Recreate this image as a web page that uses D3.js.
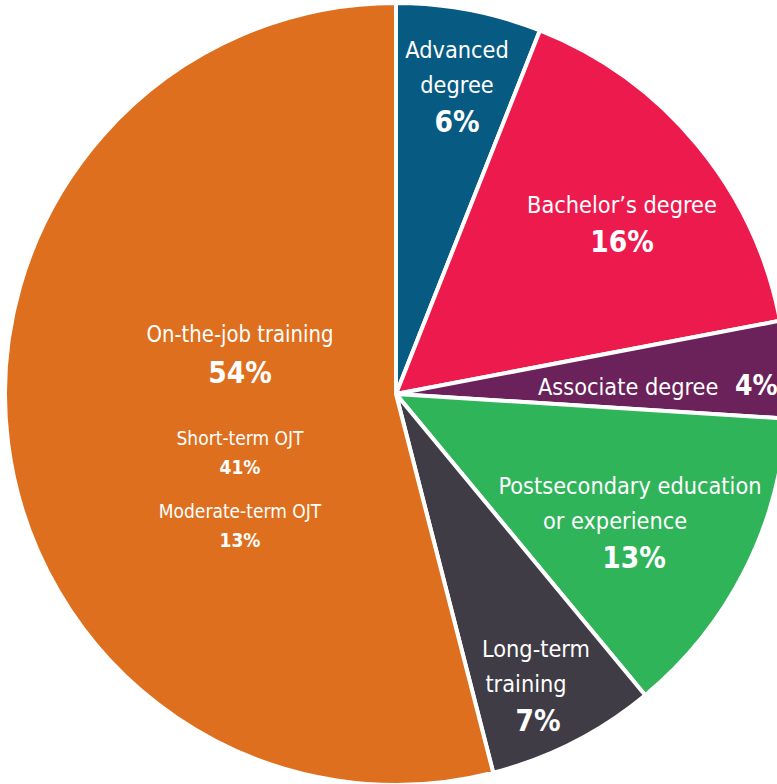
<!DOCTYPE html>
<html><head><meta charset="utf-8">
<script src="https://cdn.jsdelivr.net/npm/d3@7"></script>
<style>
html,body{margin:0;padding:0;background:#fff;}
text{font-family:"Liberation Sans Narrow","DejaVu Sans Condensed","Roboto",sans-serif;fill:#fff;}
</style></head>
<body><svg id="c" width="777" height="784"></svg>
<script>
const categories = ["Advanced degree","Bachelor's degree","Associate degree","Postsecondary education or experience","Long-term training","On-the-job training"];
const values = [6,16,4,13,7,54];
const colors = ["#075a82","#ed1a4e","#6b2159","#30b45a","#403c45","#de6f1f"];
// label lines (text) and percent labels
const labelLines = [["Advanced","degree"],["Bachelor\u2019s degree"],["Associate degree"],["Postsecondary education","or experience"],["Long-term","training"],["On-the-job training"]];
const pctLabels = ["6%","16%","4%","13%","7%","54%"];
const subCategories = ["Short-term OJT","Moderate-term OJT"];
const subValues = ["41%","13%"];

const svg = d3.select("#c");
const cx = 396, cy = 394, R = 391;
const pie = d3.pie().sort(null).value(d=>d.v);
const arcs = pie(categories.map((c,i)=>({c, v:values[i], i})));
const arc = d3.arc().innerRadius(0).outerRadius(R);
const g = svg.append("g").attr("transform",`translate(${cx},${cy})`);
g.selectAll("path").data(arcs).enter().append("path")
  .attr("d",arc).attr("fill",d=>colors[d.data.i])
  .attr("stroke","#fff").attr("stroke-width",4).attr("stroke-linejoin","miter");

// label layout (positions in page coords)
const pos = [
  {x:457, ys:[58,93], py:132},
  {x:622, ys:[213], py:252},
  null,
  {x:629, ys:[494,529], py:568, xs:[630,615], px:634},
  {x:536, ys:[657,692], py:731, xs:[536,526], px:538},
  {x:240, ys:[342], py:383, tl:[187]}
];
const L = svg.append("g");
pos.forEach((p,i)=>{
  if(!p) return;
  labelLines[i].forEach((t,j)=>{
    const el = L.append("text").attr("x",p.xs?p.xs[j]:p.x).attr("y",p.ys[j]).attr("text-anchor","middle")
      .attr("font-size",23.3).text(t);
    if(p.tl) el.attr("textLength",p.tl[j]).attr("lengthAdjust","spacingAndGlyphs");
  });
  L.append("text").attr("x",p.px||p.x).attr("y",p.py).attr("text-anchor","middle")
    .attr("font-size",29.5).attr("font-weight",700).text(pctLabels[i]);
});
// Associate degree inline
L.append("text").attr("x",538).attr("y",395).attr("font-size",23.3).text(labelLines[2][0]);
L.append("text").attr("x",735).attr("y",395).attr("font-size",28).attr("font-weight",700).text(pctLabels[2]);
// sub labels
const subY = [[445,474],[518,547]];
subCategories.forEach((t,j)=>{
  L.append("text").attr("x",240).attr("y",subY[j][0]).attr("text-anchor","middle").attr("font-size",19).text(t);
  L.append("text").attr("x",240).attr("y",subY[j][1]).attr("text-anchor","middle").attr("font-size",19).attr("font-weight",700).text(subValues[j]);
});
</script></body></html>
